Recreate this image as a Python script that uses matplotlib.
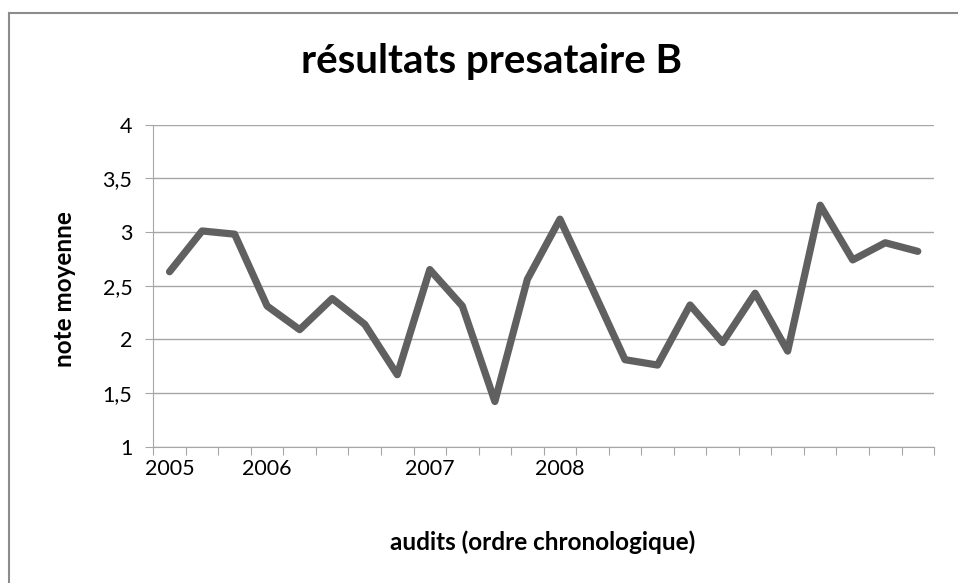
import numpy as np
import matplotlib
matplotlib.use('Agg')
from matplotlib import pyplot as plt
from matplotlib.lines import Line2D

plt.rcParams['font.family'] = ['Lato', 'DejaVu Sans']

# one value per audit, in chronological order
notes = [2.63, 3.01, 2.98, 2.31, 2.09, 2.38, 2.14, 1.67, 2.65, 2.31, 1.42, 2.56,
         3.12, 2.47, 1.81, 1.76, 2.32, 1.97, 2.43, 1.89, 3.25, 2.74, 2.90, 2.82]
annees = ['2005', '', '', '2006', '', '', '', '', '2007', '', '', '',
          '2008', '', '', '', '', '', '', '', '', '', '', '']
y_ticks = [1, 1.5, 2, 2.5, 3, 3.5, 4]
y_labels = ['1', '1,5', '2', '2,5', '3', '3,5', '4']

gris_axe = '#a6a6a6'
x = np.arange(len(notes))

fig = plt.figure(figsize=(9.58, 5.83), dpi=100)
ax = fig.add_axes([0.160, 0.234, 0.815, 0.552])

ax.plot(x, notes, color='#606060', lw=5.2, solid_joinstyle='round',
        solid_capstyle='round', zorder=3)

ax.set_xlim(-0.5, len(notes) - 0.5)
ax.set_ylim(1, 4)
ax.set_yticks(y_ticks)
ax.set_yticklabels(y_labels, fontsize=15.5)
ax.grid(axis='y', color=gris_axe, lw=1)

# tick marks between categories, labels at category centres
ax.set_xticks(np.arange(-0.5, len(notes)))
ax.set_xticklabels([])
ax.set_xticks(x, minor=True)
ax.set_xticklabels(annees, minor=True, fontsize=15.5)
ax.tick_params(axis='x', which='major', direction='out', length=6, color=gris_axe)
ax.tick_params(axis='x', which='minor', length=0, pad=9)
ax.tick_params(axis='y', direction='out', length=6, color=gris_axe, pad=9)

for s in ['top', 'right']:
    ax.spines[s].set_visible(False)
for s in ['left', 'bottom']:
    ax.spines[s].set_color(gris_axe)

fig.text(0.513, 0.875, 'résultats presataire B', ha='center', va='baseline',
         fontsize=29, fontweight='bold')
fig.text(0.067, 0.504, 'note moyenne', ha='center', va='center', rotation=90,
         fontsize=17.5, fontweight='bold')
fig.text(0.566, 0.057, 'audits (ordre chronologique)', ha='center', va='baseline',
         fontsize=17.5, fontweight='bold')

# chart frame (top and left edges visible in the crop)
fig.add_artist(Line2D([0.0094, 0.0094], [0, 0.978], color='#8c8c8c', lw=1.5,
                      transform=fig.transFigure))
fig.add_artist(Line2D([0.0094, 1.0], [0.978, 0.978], color='#8c8c8c', lw=1.5,
                      transform=fig.transFigure))

fig.savefig('out.png', dpi=100)
